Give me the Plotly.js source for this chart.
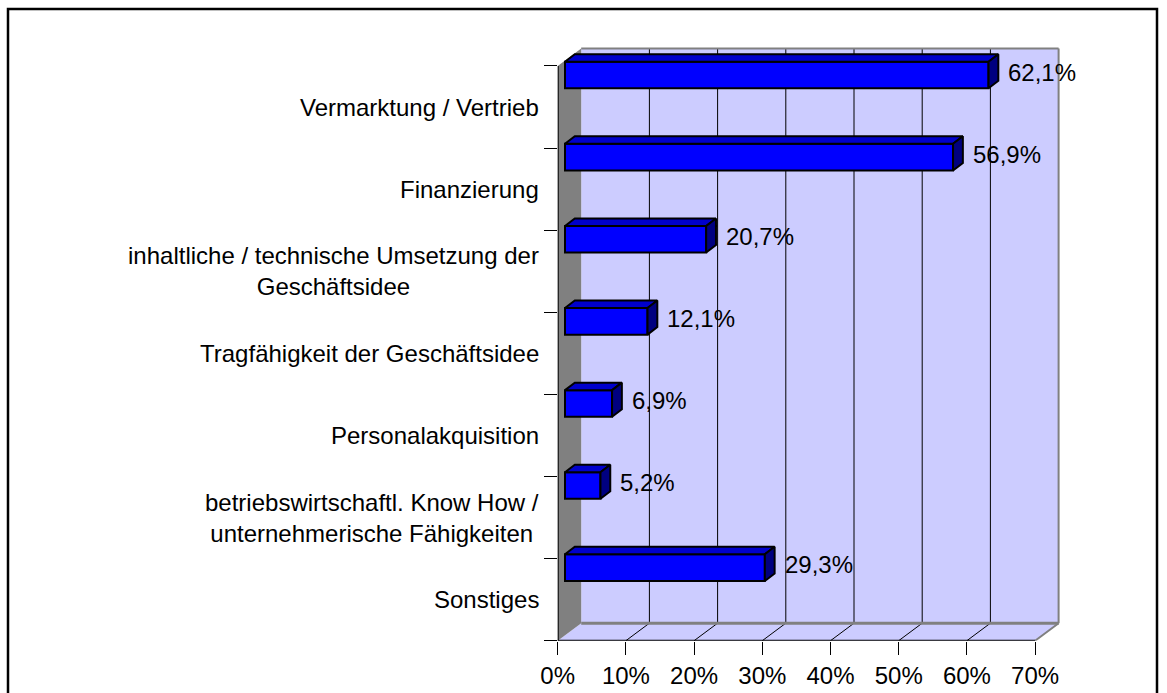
<!DOCTYPE html>
<html>
<head>
<meta charset="utf-8">
<script src="https://cdn.plot.ly/plotly-3.0.1.min.js"></script>
<style>
html, body { margin: 0; padding: 0; background: #ffffff; }
#chart { width: 1167px; height: 693px; }
</style>
</head>
<body>
<div id="chart"></div>
<script>
// ---- data ----
const categories = [
  "Vermarktung / Vertrieb",
  "Finanzierung",
  "inhaltliche / technische Umsetzung der<br>Geschäftsidee",
  "Tragfähigkeit der Geschäftsidee",
  "Personalakquisition",
  "betriebswirtschaftl. Know How /<br>unternehmerische Fähigkeiten",
  "Sonstiges"
];
const values = [62.1, 56.9, 20.7, 12.1, 6.9, 5.2, 29.3];
const valueLabels = ["62,1%", "56,9%", "20,7%", "12,1%", "6,9%", "5,2%", "29,3%"];
const xTickValues = [0, 10, 20, 30, 40, 50, 60, 70];
const xTickLabels = ["0%", "10%", "20%", "30%", "40%", "50%", "60%", "70%"];

// ---- geometry (pseudo-3D box, in pixels / axis units) ----
const W = 1167, H = 693;
const PXU = 6.82;          // px per percent
const BH = 82.1;           // px per category band
const FX0 = 557.7;         // px of 0% on front axis
const FY0 = 640.7;         // px of front floor
const XMAX = 70;
const N = categories.length;
const DX = 23.5 / PXU;     // wall depth in x units
const DY = 17.5 / BH;      // wall depth in y units
const padX = 0.25, padY = 0.02;
const xr = [0, XMAX + DX + padX];
const yr = [0, N + DY + padY];
const xDom = [FX0 / W, (FX0 + xr[1] * PXU) / W];
const yDom = [(H - FY0) / H, (H - (FY0 - yr[1] * BH)) / H];

// bar geometry
const barBase = 7.3 / PXU;
const faceTopOff = 0.052;
const faceH = 26.6 / BH;
const bdx = 9.8 / PXU;
const bdy = 7.5 / BH;

const FONT = "Liberation Sans, Arial, Helvetica, sans-serif";
const WALL = "#CCCCFF";
const GRAYC = "#808080";

// category positions (top to bottom)
const faceTop = categories.map((c, k) => (N - k) + faceTopOff);
const faceCenter = faceTop.map(t => t - faceH / 2);

// front faces
const frontTrace = {
  type: "bar",
  orientation: "h",
  y: faceCenter,
  x: values,
  base: values.map(() => barBase),
  width: faceH,
  marker: { color: "#0000FF", line: { color: "#000000", width: 2 } },
  hoverinfo: "skip"
};

// top faces and side faces (polygons derived from the values)
const topX = [], topY = [], sideX = [], sideY = [];
values.forEach((v, k) => {
  const t = faceTop[k], b = faceTop[k] - faceH;
  const x0 = barBase, x1 = barBase + v;
  topX.push(x0, x1, x1 + bdx, x0 + bdx, x0, null);
  topY.push(t, t, t + bdy, t + bdy, t, null);
  sideX.push(x1, x1, x1 + bdx, x1 + bdx, x1, null);
  sideY.push(b, t, t + bdy, b + bdy, b, null);
});
const topTrace = {
  type: "scatter", mode: "lines", x: topX, y: topY, fill: "toself",
  fillcolor: "#0000CC", line: { color: "#000000", width: 2 }, hoverinfo: "skip"
};
const sideTrace = {
  type: "scatter", mode: "lines", x: sideX, y: sideY, fill: "toself",
  fillcolor: "#000080", line: { color: "#000000", width: 2 }, hoverinfo: "skip"
};

// ---- box decoration ----
const shapes = [];
// back wall
shapes.push({ type: "rect", xref: "x", yref: "y", layer: "below",
  x0: DX, x1: XMAX + DX, y0: DY, y1: N + DY, fillcolor: WALL, line: { width: 0 } });
// floor
shapes.push({ type: "path", xref: "x", yref: "y", layer: "below",
  path: `M 0,0 L ${XMAX},0 L ${XMAX + DX},${DY} L ${DX},${DY} Z`,
  fillcolor: WALL, line: { width: 0 } });
// side wall
shapes.push({ type: "path", xref: "x", yref: "y", layer: "below",
  path: `M 0,0 L ${DX},${DY} L ${DX},${N + DY} L 0,${N} Z`,
  fillcolor: GRAYC, line: { width: 0 } });
// gridlines on back wall and floor
xTickValues.forEach(v => {
  if (v > 0 && v < XMAX) {
    shapes.push({ type: "line", xref: "x", yref: "y", layer: "below",
      x0: v + DX, x1: v + DX, y0: DY, y1: N + DY, line: { color: "#000000", width: 1 } });
    shapes.push({ type: "line", xref: "x", yref: "y", layer: "below",
      x0: v, x1: v + DX, y0: 0, y1: DY, line: { color: "#000000", width: 1 } });
  }
});
// gray edges
shapes.push({ type: "line", xref: "x", yref: "y", layer: "below",
  x0: DX, x1: XMAX + DX, y0: DY, y1: DY, line: { color: GRAYC, width: 3 } });
shapes.push({ type: "line", xref: "x", yref: "y", layer: "below",
  x0: DX, x1: XMAX + DX, y0: N + DY, y1: N + DY, line: { color: GRAYC, width: 2 } });
shapes.push({ type: "line", xref: "x", yref: "y", layer: "below",
  x0: XMAX + DX, x1: XMAX + DX, y0: DY, y1: N + DY, line: { color: GRAYC, width: 2 } });
shapes.push({ type: "line", xref: "x", yref: "y", layer: "below",
  x0: XMAX, x1: XMAX + DX, y0: 0, y1: DY, line: { color: GRAYC, width: 2 } });
// axis lines (front)
shapes.push({ type: "line", xref: "x", yref: "y", layer: "above",
  x0: 0, x1: XMAX, y0: 0, y1: 0, line: { color: "#000000", width: 2 } });
shapes.push({ type: "line", xref: "x", yref: "y", layer: "above",
  x0: 0, x1: 0, y0: 0, y1: N, line: { color: "#000000", width: 2 } });
// outer frame
shapes.push({ type: "rect", xref: "paper", yref: "paper", layer: "above",
  x0: 8 / W, x1: 1157 / W, y0: -10 / H, y1: (H - 9) / H,
  line: { color: "#000000", width: 2.5 }, fillcolor: "rgba(0,0,0,0)" });

// ---- annotations ----
const annotations = [];
categories.forEach((c, k) => {
  annotations.push({
    xref: "paper", yref: "y", x: 541 / W, y: N - k - 0.5,
    xanchor: "right", yanchor: "middle", align: "center",
    text: c, showarrow: false,
    font: { family: FONT, size: 24, color: "#000000" }
  });
});
values.forEach((v, k) => {
  annotations.push({
    xref: "x", yref: "y", x: barBase + v + bdx, y: faceCenter[k],
    xanchor: "left", yanchor: "middle", xshift: 8, yshift: 3,
    text: valueLabels[k], showarrow: false,
    font: { family: FONT, size: 24, color: "#000000" }
  });
});

const layout = {
  width: W, height: H,
  margin: { l: 0, r: 0, t: 0, b: 0, pad: 0 },
  paper_bgcolor: "#FFFFFF",
  plot_bgcolor: "rgba(0,0,0,0)",
  showlegend: false,
  font: { family: FONT, size: 24, color: "#000000" },
  xaxis: {
    range: xr, domain: xDom,
    tickmode: "array", tickvals: xTickValues, ticktext: xTickLabels,
    ticks: "outside", ticklen: 13, tickwidth: 1, tickcolor: "#000000",
    showgrid: false, zeroline: false, showline: false,
    tickfont: { family: FONT, size: 24, color: "#000000" },
    fixedrange: true
  },
  yaxis: {
    range: yr, domain: yDom,
    tickmode: "array", tickvals: categories.map((c, k) => k).concat([N]),
    ticks: "outside", ticklen: 13, tickwidth: 1, tickcolor: "#000000",
    showticklabels: false,
    showgrid: false, zeroline: false, showline: false,
    fixedrange: true
  },
  shapes: shapes,
  annotations: annotations,
  bargap: 0
};

Plotly.newPlot("chart", [frontTrace, topTrace, sideTrace], layout, { staticPlot: true, displayModeBar: false });
</script>
</body>
</html>
